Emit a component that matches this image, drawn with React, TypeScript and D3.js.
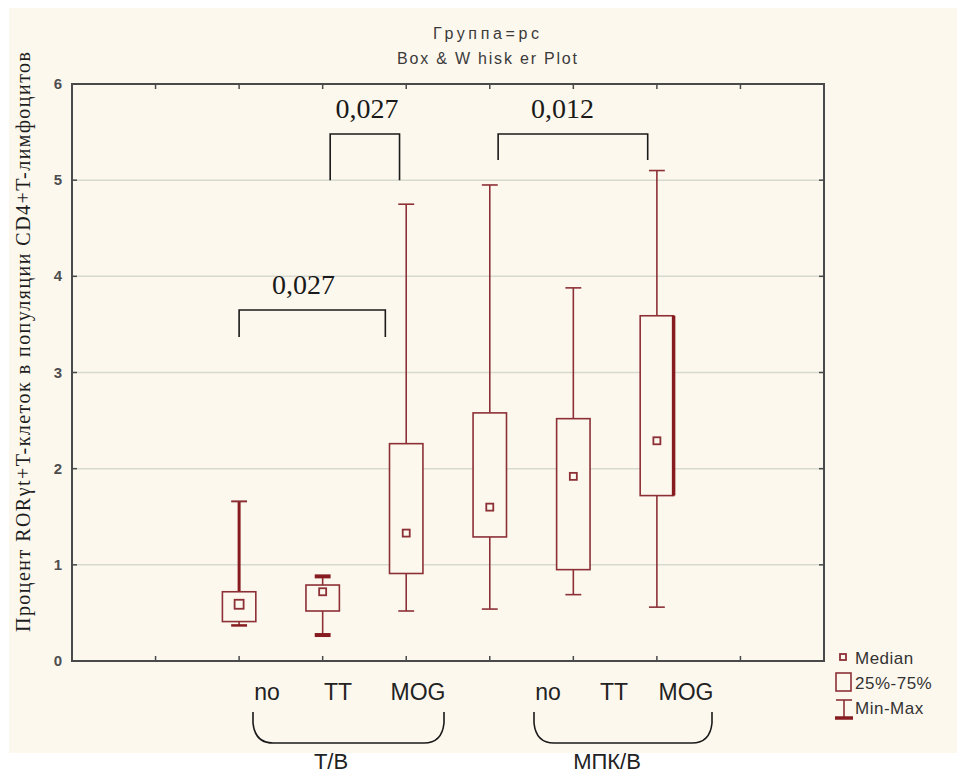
import React from 'react';
import * as d3 from 'd3';

// Box-and-whisker summary per category (percent of RORγt+ T cells)
const categories = ['no', 'TT', 'MOG', 'no', 'TT', 'MOG'];
const groups = ['Т/В', 'МПК/В'];
const groupMembers = [[0, 1, 2], [3, 4, 5]];
const minValues = [0.37, 0.27, 0.52, 0.54, 0.69, 0.56];
const q1Values = [0.41, 0.52, 0.91, 1.29, 0.95, 1.72];
const medianValues = [0.59, 0.72, 1.33, 1.6, 1.92, 2.29];
const q3Values = [0.72, 0.79, 2.26, 2.58, 2.52, 3.59];
const maxValues = [1.66, 0.88, 4.75, 4.95, 3.88, 5.1];
const yTicks = [0, 1, 2, 3, 4, 5, 6];
const gridValues = [1, 2, 3, 4, 5];
const xTickSlots = [1, 2, 3, 4, 5, 6, 7, 8];

// Pairwise comparisons: p-value label, bracket ends and label centre
// (category index units), bracket top and leg bottom (y units)
const pLabels = ['0,027', '0,027', '0,012'];
const pFrom = [0, 1.09, 3.1];
const pTo = [1.75, 1.92, 4.89];
const pLabelAt = [0.77, 1.53, 3.87];
const pTop = [3.65, 5.48, 5.48];
const pLegEnd = [3.37, 5.0, 5.21];

const W = 966;
const H = 776;
const frame = { left: 72, right: 824, top: 84, bottom: 661 };
const boxColor = '#8c3036';
const heavyColor = '#861c20';
// horizontal placement of the category captions beneath the plot
const captionX = [267, 338, 418, 548, 614, 686];

export default function App() {
  const x = d3.scaleLinear().domain([0, 9]).range([frame.left, frame.right]);
  const y = d3.scaleLinear().domain([0, 6]).range([frame.bottom, frame.top]);
  const pos = (i: number) => x(i + 2);
  const unit = x(1) - x(0);
  const boxW = unit * 0.4;
  const capW = unit * 0.19;

  // stroke weights per box: [upper whisker, upper cap, lower cap, right edge]
  const weights = [
    [3, 2, 2.5, 1.6],
    [1.6, 4, 4, 1.6],
    [1.6, 1.6, 1.6, 1.6],
    [1.6, 1.6, 1.6, 1.6],
    [1.6, 1.6, 1.6, 1.6],
    [1.6, 1.6, 1.6, 3.5],
  ];
  const medianSize = [9, 7, 7, 7, 7, 7];

  const brace = (a: number, b: number, top: number, bottom: number) => {
    const r = 20;
    return `M${a},${top} L${a},${bottom - r} Q${a + 2},${bottom} ${a + r},${bottom} L${b - r},${bottom} Q${b - 2},${bottom} ${b},${bottom - r} L${b},${top}`;
  };

  return (
    <svg
      width={W}
      height={H}
      style={{ position: 'fixed', left: 0, top: 0, background: '#ffffff' }}
      fontFamily="'Liberation Sans', Arial, sans-serif"
    >
      <rect x={9} y={8} width={948} height={745} fill="#fdf8ee" />

      {/* titles */}
      <text x={486} y={39} textAnchor="middle" fontSize={16} fill="#3a3a3a" textLength={106} lengthAdjust="spacing">
        Группа=рс
      </text>
      <text x={487} y={64} textAnchor="middle" fontSize={16} fill="#3a3a3a" textLength={180} lengthAdjust="spacing">
        Box &amp; W hisk er Plot
      </text>

      {/* grid */}
      {gridValues.map((v) => (
        <line key={v} x1={frame.left} x2={frame.right} y1={y(v)} y2={y(v)} stroke="#d6dacf" strokeWidth={1.5} />
      ))}

      {/* frame and ticks */}
      <rect
        x={frame.left}
        y={frame.top}
        width={frame.right - frame.left}
        height={frame.bottom - frame.top}
        fill="none"
        stroke="#4a4a4a"
        strokeWidth={2}
      />
      {xTickSlots.map((t) => (
        <g key={t}>
          <line x1={x(t)} x2={x(t)} y1={frame.top} y2={frame.top + 5} stroke="#4a4a4a" strokeWidth={1.5} />
          <line x1={x(t)} x2={x(t)} y1={frame.bottom} y2={frame.bottom - 5} stroke="#4a4a4a" strokeWidth={1.5} />
        </g>
      ))}
      {yTicks.map((t) => (
        <g key={t}>
          <line x1={frame.left} x2={frame.left + 5} y1={y(t)} y2={y(t)} stroke="#4a4a4a" strokeWidth={1.5} />
          <line x1={frame.right} x2={frame.right - 5} y1={y(t)} y2={y(t)} stroke="#4a4a4a" strokeWidth={1.5} />
          <text x={58} y={y(t) + 5} textAnchor="middle" fontSize={15} fontWeight="bold" fill="#4e4e4e">
            {t}
          </text>
        </g>
      ))}

      {/* y axis title */}
      <text
        transform={`translate(30, ${342}) rotate(-90)`}
        textAnchor="middle"
        fontFamily="'Liberation Serif', 'Times New Roman', serif"
        fontSize={20}
        fill="#1e1e1e"
        textLength={580}
        lengthAdjust="spacing"
      >
        Процент RORγt+T-клеток в популяции CD4+T-лимфоцитов
      </text>

      {/* boxes */}
      {categories.map((c, i) => {
        const cx = pos(i);
        const w = weights[i];
        const m = medianSize[i];
        return (
          <g key={i} stroke={boxColor} fill="none">
            <line x1={cx} x2={cx} y1={y(q3Values[i])} y2={y(maxValues[i])} strokeWidth={w[0]} stroke={w[0] > 2 ? heavyColor : boxColor} />
            <line x1={cx} x2={cx} y1={y(q1Values[i])} y2={y(minValues[i])} strokeWidth={1.6} />
            <line x1={cx - capW / 2} x2={cx + capW / 2} y1={y(maxValues[i])} y2={y(maxValues[i])} strokeWidth={w[1]} stroke={w[1] > 2 ? heavyColor : boxColor} />
            <line x1={cx - capW / 2} x2={cx + capW / 2} y1={y(minValues[i])} y2={y(minValues[i])} strokeWidth={w[2]} stroke={w[2] > 2 ? heavyColor : boxColor} />
            <rect
              x={cx - boxW / 2}
              y={y(q3Values[i])}
              width={boxW}
              height={y(q1Values[i]) - y(q3Values[i])}
              fill="#fdf8ee"
              strokeWidth={1.6}
            />
            {w[3] > 2 && (
              <line x1={cx + boxW / 2} x2={cx + boxW / 2} y1={y(q3Values[i])} y2={y(q1Values[i])} strokeWidth={w[3]} stroke={heavyColor} />
            )}
            <rect x={cx - m / 2} y={y(medianValues[i]) - m / 2} width={m} height={m} strokeWidth={1.8} />
          </g>
        );
      })}

      {/* significance brackets */}
      {pLabels.map((p, k) => {
        const a = pos(pFrom[k]);
        const b = pos(pTo[k]);
        return (
          <g key={k}>
            <path
              d={`M${a},${y(pLegEnd[k])} L${a},${y(pTop[k])} L${b},${y(pTop[k])} L${b},${y(pLegEnd[k])}`}
              fill="none"
              stroke="#1a1a1a"
              strokeWidth={1.6}
            />
            <text
              x={pos(pLabelAt[k])}
              y={y(pTop[k]) - 16}
              textAnchor="middle"
              fontFamily="'Liberation Serif', 'Times New Roman', serif"
              fontSize={28}
              fill="#1a1a1a"
            >
              {p}
            </text>
          </g>
        );
      })}

      {/* category labels */}
      {categories.map((c, i) => (
        <text key={i} x={captionX[i]} y={700} textAnchor="middle" fontSize={23} fill="#222">
          {c}
        </text>
      ))}

      {/* group braces and labels */}
      {groups.map((g, k) => {
        const m = groupMembers[k];
        const a = captionX[m[0]] - 14;
        const b = captionX[m[m.length - 1]] + 26;
        const mid = captionX[m[1]] - 7;
        return (
          <g key={g}>
            <path d={brace(a, b, 712, 743)} fill="none" stroke="#1a1a1a" strokeWidth={1.6} />
            <text x={mid} y={769} textAnchor="middle" fontSize={22} fill="#222">
              {g}
            </text>
          </g>
        );
      })}

      {/* legend */}
      <g stroke={boxColor} fill="none">
        <rect x={840} y={654} width={6} height={6} strokeWidth={1.8} />
        <rect x={836} y={673} width={15} height={18} strokeWidth={1.6} />
        <line x1={836} x2={852} y1={700} y2={700} strokeWidth={1.6} />
        <line x1={844} x2={844} y1={700} y2={718} strokeWidth={1.6} />
        <line x1={835} x2={853} y1={718} y2={718} strokeWidth={3.5} stroke={heavyColor} />
      </g>
      <g fontSize={17} fill="#333" letterSpacing={0.5}>
        <text x={855} y={664}>Median</text>
        <text x={855} y={689}>25%-75%</text>
        <text x={855} y={714}>Min-Max</text>
      </g>
    </svg>
  );
}
